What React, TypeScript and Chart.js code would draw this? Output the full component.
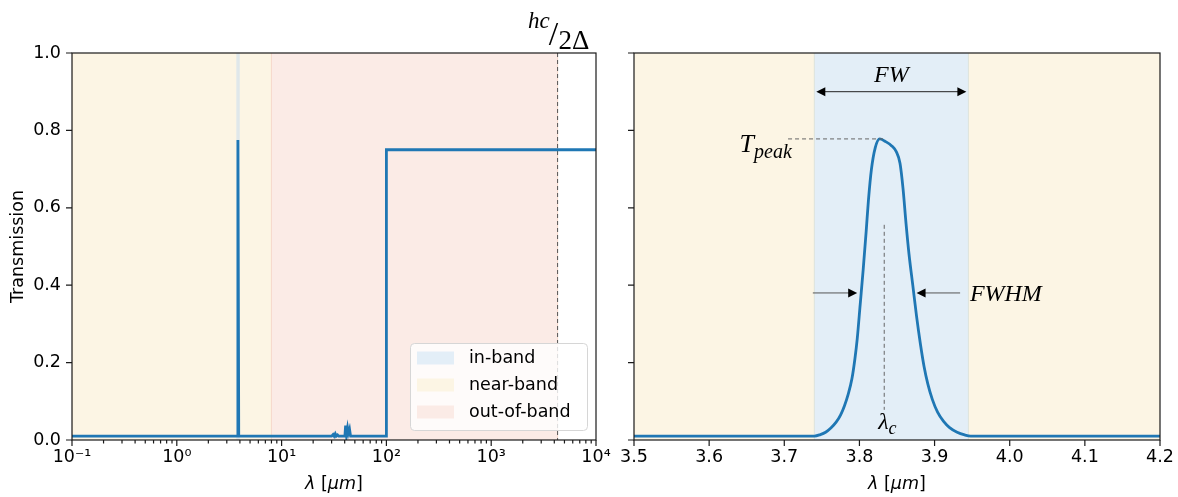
import React, { useEffect, useRef } from 'react';
import { Chart, registerables } from 'chart.js';

Chart.register(...registerables);

// ---------- data ----------
const LEFT_X = [0.1, 3.76, 3.83, 3.9, 30, 31, 31.7, 32.5, 33.2, 34.2, 35, 40.2, 40.8, 41.6, 42.6, 43.4, 44.5, 45.5, 100, 100, 10000];
const LEFT_Y = [0.01, 0.01, 0.775, 0.01, 0.01, 0.014, 0.01, 0.016, 0.01, 0.013, 0.01, 0.01, 0.037, 0.013, 0.031, 0.018, 0.028, 0.01, 0.01, 0.75, 0.75];

const RIGHT_X = [3.5, 3.74, 3.748, 3.755, 3.762, 3.769, 3.775, 3.78, 3.785, 3.79, 3.794, 3.797, 3.801, 3.805, 3.809, 3.812, 3.816, 3.821, 3.827, 3.834, 3.843, 3.849, 3.854, 3.858, 3.862, 3.866, 3.871, 3.876, 3.881, 3.886, 3.891, 3.897, 3.904, 3.912, 3.92, 3.93, 3.94, 3.948, 4.2];
const RIGHT_Y = [0.01, 0.01, 0.014, 0.02, 0.031, 0.046, 0.065, 0.088, 0.118, 0.158, 0.21, 0.26, 0.35, 0.44, 0.54, 0.62, 0.7, 0.755, 0.778, 0.772, 0.76, 0.745, 0.715, 0.65, 0.56, 0.48, 0.4, 0.32, 0.25, 0.19, 0.145, 0.105, 0.072, 0.048, 0.032, 0.02, 0.013, 0.01, 0.01];

const Y_TICKS = [0, 0.2, 0.4, 0.6, 0.8, 1.0];
const LOG_MAJOR = [0.1, 1, 10, 100, 1000, 10000];
const LOG_TICK_LABELS = ['10\u207B\u00B9', '10\u2070', '10\u00B9', '10\u00B2', '10\u00B3', '10\u2074'];
const LOG_MINOR_MULT = [2, 3, 4, 5, 6, 7, 8, 9];
const RIGHT_X_TICKS = [3.5, 3.6, 3.7, 3.8, 3.9, 4.0, 4.1, 4.2];

const LEGEND_LABELS = ['in-band', 'near-band', 'out-of-band'];
const BAND_COLORS = ['#e3eef7', '#fcf5e4', '#fbebe6'];
const BAND_EDGES = ['#dde3dc', '#f7e6cf', '#f6d9cc'];

const IN_BAND = [3.74, 3.945];
const NEAR_BAND_LEFT = [0.1, 8];
const OUT_BAND = [8, 4300];
const HC_2DELTA = 4300;
const LAMBDA_C = 3.833;
const PEAK_X = 3.827;
const T_PEAK = 0.778;
const FW_LEVEL = 0.9;
const FWHM_LEVEL = 0.38;
const FWHM_EDGES = [3.797, 3.876];

const LINE_COLOR = '#1f77b4';
const SANS = '"DejaVu Sans", sans-serif';
const MATH = '"Liberation Serif", serif';
const FS = 17.5;

// ---------- helpers ----------
type Run = { t: string; f: string; dy?: number };

function drawRuns(ctx: CanvasRenderingContext2D, runs: Run[], x: number, y: number, align: 'left' | 'center' | 'right') {
  let total = 0;
  const widths = runs.map((r) => {
    ctx.font = r.f;
    const w = ctx.measureText(r.t).width;
    total += w;
    return w;
  });
  let sx = align === 'center' ? x - total / 2 : align === 'right' ? x - total : x;
  ctx.textAlign = 'left';
  runs.forEach((r, i) => {
    ctx.font = r.f;
    ctx.fillText(r.t, sx, y + (r.dy || 0));
    sx += widths[i];
  });
}

function arrowHead(ctx: CanvasRenderingContext2D, tipX: number, y: number, dir: number) {
  const L = 9, H = 4.5;
  ctx.beginPath();
  ctx.moveTo(tipX, y);
  ctx.lineTo(tipX - dir * L, y - H);
  ctx.lineTo(tipX - dir * L, y + H);
  ctx.closePath();
  ctx.fill();
}

function fillBand(ctx: CanvasRenderingContext2D, xs: any, a: any, range: number[], fill: string, edge: string, minW = 0) {
  let x1 = xs.getPixelForValue(range[0]);
  let x2 = xs.getPixelForValue(range[1]);
  if (x2 - x1 < minW) {
    const c = (x1 + x2) / 2;
    x1 = c - minW / 2;
    x2 = c + minW / 2;
  }
  ctx.fillStyle = fill;
  ctx.fillRect(x1, a.top, x2 - x1, a.bottom - a.top);
  ctx.strokeStyle = edge;
  ctx.lineWidth = 1;
  ctx.beginPath();
  ctx.moveTo(x1, a.top); ctx.lineTo(x1, a.bottom);
  ctx.moveTo(x2, a.top); ctx.lineTo(x2, a.bottom);
  ctx.stroke();
}

function isPow10(v: number) {
  const l = Math.log10(v);
  return Math.abs(l - Math.round(l)) < 1e-6;
}

function drawFrameAndTicks(chart: any, logX: boolean) {
  const { ctx, chartArea: a, scales: { x, y } } = chart;
  ctx.save();
  ctx.strokeStyle = '#1a1a1a';
  ctx.lineWidth = 1.2;
  ctx.strokeRect(a.left, a.top, a.right - a.left, a.bottom - a.top);
  ctx.beginPath();
  for (const v of Y_TICKS) {
    const py = y.getPixelForValue(v);
    ctx.moveTo(a.left - 6, py);
    ctx.lineTo(a.left, py);
  }
  for (const t of x.ticks) {
    const px = x.getPixelForValue(t.value);
    const len = !logX || isPow10(t.value) ? 6 : 3.5;
    ctx.moveTo(px, a.bottom);
    ctx.lineTo(px, a.bottom + len);
  }
  ctx.stroke();
  ctx.restore();
}

function drawXTitle(chart: any) {
  const { ctx, chartArea: a } = chart;
  ctx.save();
  ctx.fillStyle = '#000';
  ctx.textBaseline = 'middle';
  const it = `oblique ${FS}px ${SANS}`;
  const nm = `${FS}px ${SANS}`;
  drawRuns(ctx, [
    { t: '\u03BB', f: it },
    { t: ' [', f: nm },
    { t: '\u03BCm', f: it },
    { t: ']', f: nm },
  ], (a.left + a.right) / 2, 484, 'center');
  ctx.restore();
}

function logTicks() {
  const out: number[] = [];
  for (let i = 0; i < LOG_MAJOR.length; i++) {
    out.push(LOG_MAJOR[i]);
    if (i < LOG_MAJOR.length - 1) for (const m of LOG_MINOR_MULT) out.push(m * LOG_MAJOR[i]);
  }
  return out;
}

// ---------- plugins ----------
const leftPlugin = {
  id: 'leftDecor',
  beforeDatasetsDraw(chart: any) {
    const { ctx, chartArea: a, scales: { x } } = chart;
    ctx.save();
    ctx.beginPath();
    ctx.rect(a.left, a.top, a.right - a.left, a.bottom - a.top);
    ctx.clip();
    fillBand(ctx, x, a, NEAR_BAND_LEFT, BAND_COLORS[1], BAND_EDGES[1]);
    fillBand(ctx, x, a, OUT_BAND, BAND_COLORS[2], BAND_EDGES[2]);
    fillBand(ctx, x, a, IN_BAND, '#dfe7ea', '#e2e9ea', 1.5);
    const px = x.getPixelForValue(HC_2DELTA);
    ctx.strokeStyle = '#555';
    ctx.lineWidth = 1;
    ctx.setLineDash([4, 3]);
    ctx.beginPath();
    ctx.moveTo(px, a.top);
    ctx.lineTo(px, a.bottom);
    ctx.stroke();
    ctx.restore();
  },
  afterDraw(chart: any) {
    const { ctx, chartArea: a, scales: { x } } = chart;
    drawFrameAndTicks(chart, true);
    drawXTitle(chart);
    // legend
    ctx.save();
    const w = 177, h = 87;
    const lx = a.right - 9 - w, ly = a.bottom - 10 - h;
    ctx.beginPath();
    (ctx as any).roundRect(lx + 0.5, ly + 0.5, w, h, 4);
    ctx.fillStyle = 'rgba(255,255,255,0.8)';
    ctx.fill();
    ctx.strokeStyle = '#d6d6d6';
    ctx.lineWidth = 1;
    ctx.stroke();
    ctx.textBaseline = 'middle';
    ctx.textAlign = 'left';
    ctx.font = `${FS}px ${SANS}`;
    LEGEND_LABELS.forEach((lab, i) => {
      const cy = ly + 15 + i * 27;
      ctx.fillStyle = BAND_COLORS[i];
      ctx.fillRect(lx + 7, cy - 6.5, 37, 13);
      ctx.fillStyle = '#000';
      ctx.fillText(lab, lx + 59, cy);
    });
    // hc / 2Δ label
    const px = x.getPixelForValue(HC_2DELTA);
    ctx.fillStyle = '#000';
    ctx.textBaseline = 'alphabetic';
    drawRuns(ctx, [{ t: 'hc', f: `italic 23px ${MATH}` }], px - 8, 28, 'right');
    drawRuns(ctx, [{ t: '/', f: `34px ${MATH}` }], px - 4, 45, 'center');
    drawRuns(ctx, [{ t: '2\u0394', f: `27px ${MATH}` }], px + 1, 49, 'left');
    ctx.restore();
  },
};

const rightPlugin = {
  id: 'rightDecor',
  beforeDatasetsDraw(chart: any) {
    const { ctx, chartArea: a, scales: { x } } = chart;
    ctx.save();
    ctx.beginPath();
    ctx.rect(a.left, a.top, a.right - a.left, a.bottom - a.top);
    ctx.clip();
    fillBand(ctx, x, a, [x.min, x.max], BAND_COLORS[1], BAND_COLORS[1]);
    fillBand(ctx, x, a, IN_BAND, BAND_COLORS[0], BAND_EDGES[0]);
    ctx.restore();
  },
  afterDatasetsDraw(chart: any) {
    const { ctx, scales: { x, y } } = chart;
    ctx.save();
    ctx.fillStyle = '#000';
    // FW double arrow
    const fx1 = x.getPixelForValue(IN_BAND[0]) + 2;
    const fx2 = x.getPixelForValue(IN_BAND[1]) - 2;
    const fy = y.getPixelForValue(FW_LEVEL);
    ctx.strokeStyle = '#222';
    ctx.lineWidth = 1;
    ctx.beginPath();
    ctx.moveTo(fx1 + 5, fy); ctx.lineTo(fx2 - 5, fy);
    ctx.stroke();
    arrowHead(ctx, fx1, fy, -1);
    arrowHead(ctx, fx2, fy, 1);
    ctx.textBaseline = 'alphabetic';
    drawRuns(ctx, [{ t: 'FW', f: `italic 24px ${MATH}` }], (fx1 + fx2) / 2, y.getPixelForValue(0.925), 'center');

    // T_peak dashed
    ctx.strokeStyle = '#666';
    ctx.setLineDash([4, 3]);
    ctx.beginPath();
    const py = y.getPixelForValue(T_PEAK);
    ctx.moveTo(x.getPixelForValue(3.705), py);
    ctx.lineTo(x.getPixelForValue(PEAK_X + 0.006), py);
    // lambda_c dashed
    const lx = x.getPixelForValue(LAMBDA_C);
    ctx.moveTo(lx, y.getPixelForValue(0.556));
    ctx.lineTo(lx, y.getPixelForValue(0.078));
    ctx.stroke();
    ctx.setLineDash([]);

    drawRuns(ctx, [
      { t: 'T', f: `italic 26px ${MATH}` },
      { t: 'peak', f: `italic 20px ${MATH}` , dy: 6 },
    ], x.getPixelForValue(3.71), y.getPixelForValue(0.744), 'right');

    // FWHM arrows
    const hy = y.getPixelForValue(FWHM_LEVEL);
    const a1 = x.getPixelForValue(IN_BAND[0] - 0.002);
    const t1 = x.getPixelForValue(FWHM_EDGES[0]);
    const t2 = x.getPixelForValue(FWHM_EDGES[1]);
    const a2 = x.getPixelForValue(3.934);
    ctx.strokeStyle = '#555';
    ctx.beginPath();
    ctx.moveTo(a1, hy); ctx.lineTo(t1 - 6, hy);
    ctx.moveTo(a2, hy); ctx.lineTo(t2 + 6, hy);
    ctx.stroke();
    arrowHead(ctx, t1, hy, 1);
    arrowHead(ctx, t2, hy, -1);
    drawRuns(ctx, [{ t: 'FWHM', f: `italic 24px ${MATH}` }], x.getPixelForValue(3.947), y.getPixelForValue(0.36), 'left');

    // lambda_c label
    drawRuns(ctx, [
      { t: '\u03BB', f: `italic 24px ${MATH}` },
      { t: 'c', f: `italic 18px ${MATH}`, dy: 5 },
    ], x.getPixelForValue(3.825), y.getPixelForValue(0.028), 'left');
    ctx.restore();
  },
  afterDraw(chart: any) {
    drawFrameAndTicks(chart, false);
    drawXTitle(chart);
  },
};

// ---------- configs ----------
const tickFont = { family: SANS, size: FS };

function yScale(showLabels: boolean, width: number) {
  return {
    min: 0,
    max: 1,
    afterBuildTicks: (s: any) => { s.ticks = Y_TICKS.map((v) => ({ value: v })); },
    afterFit: (s: any) => { s.width = width; s.paddingTop = 0; s.paddingBottom = 0; },
    grid: { display: false, drawTicks: false },
    border: { display: false },
    ticks: {
      display: showLabels,
      padding: 11,
      color: '#000',
      font: tickFont,
      callback: (v: number) => Number(v).toFixed(1),
    },
    title: {
      display: showLabels,
      text: 'Transmission',
      color: '#000',
      font: { family: SANS, size: FS },
      padding: { top: 7.5, bottom: 0 },
    },
  };
}

function xFit(s: any) {
  s.height = 57;
  s.paddingLeft = 0;
  s.paddingRight = 0;
}

function leftConfig(): any {
  return {
    type: 'line',
    data: {
      datasets: [{
        data: LEFT_X.map((v, i) => ({ x: v, y: LEFT_Y[i] })),
        borderColor: LINE_COLOR,
        borderWidth: 2.8,
        pointRadius: 0,
        tension: 0,
        fill: false,
      }],
    },
    options: {
      animation: false,
      responsive: false,
      layout: { padding: { left: 0, right: 19, top: 53, bottom: 0 } },
      plugins: { legend: { display: false }, tooltip: { enabled: false } },
      scales: {
        x: {
          type: 'logarithmic',
          min: 0.1,
          max: 10000,
          afterBuildTicks: (s: any) => { s.ticks = logTicks().map((v) => ({ value: v })); },
          afterFit: xFit,
          grid: { display: false, drawTicks: false },
          border: { display: false },
          ticks: {
            autoSkip: false,
            maxRotation: 0,
            minRotation: 0,
            padding: 7,
            color: '#000',
            font: tickFont,
            callback: (v: number) => {
              const i = LOG_MAJOR.findIndex((m) => Math.abs(m - v) / m < 1e-6);
              return i >= 0 ? LOG_TICK_LABELS[i] : '';
            },
          },
        },
        y: yScale(true, 72),
      },
    },
    plugins: [leftPlugin],
  };
}

function rightConfig(): any {
  return {
    type: 'line',
    data: {
      datasets: [{
        data: RIGHT_X.map((v, i) => ({ x: v, y: RIGHT_Y[i] })),
        borderColor: LINE_COLOR,
        borderWidth: 2.8,
        pointRadius: 0,
        cubicInterpolationMode: 'monotone',
        fill: false,
      }],
    },
    options: {
      animation: false,
      responsive: false,
      layout: { padding: { left: 0, right: 18, top: 53, bottom: 0 } },
      plugins: { legend: { display: false }, tooltip: { enabled: false } },
      scales: {
        x: {
          type: 'linear',
          min: 3.5,
          max: 4.2,
          afterBuildTicks: (s: any) => { s.ticks = RIGHT_X_TICKS.map((v) => ({ value: v })); },
          afterFit: xFit,
          grid: { display: false, drawTicks: false },
          border: { display: false },
          ticks: {
            autoSkip: false,
            maxRotation: 0,
            minRotation: 0,
            padding: 7,
            color: '#000',
            font: tickFont,
            callback: (v: number) => Number(v).toFixed(1),
          },
        },
        y: yScale(false, 19),
      },
    },
    plugins: [rightPlugin],
  };
}

export default function App() {
  const leftRef = useRef<HTMLCanvasElement>(null);
  const rightRef = useRef<HTMLCanvasElement>(null);
  useEffect(() => {
    const c1 = new Chart(leftRef.current as HTMLCanvasElement, leftConfig());
    const c2 = new Chart(rightRef.current as HTMLCanvasElement, rightConfig());
    return () => { c1.destroy(); c2.destroy(); };
  }, []);
  return (
    <div style={{ position: 'absolute', left: 0, top: 0, width: 1178, height: 497, background: '#fff' }}>
      <canvas ref={leftRef} width={615} height={497} style={{ position: 'absolute', left: 0, top: 0 }} />
      <canvas ref={rightRef} width={563} height={497} style={{ position: 'absolute', left: 615, top: 0 }} />
    </div>
  );
}
